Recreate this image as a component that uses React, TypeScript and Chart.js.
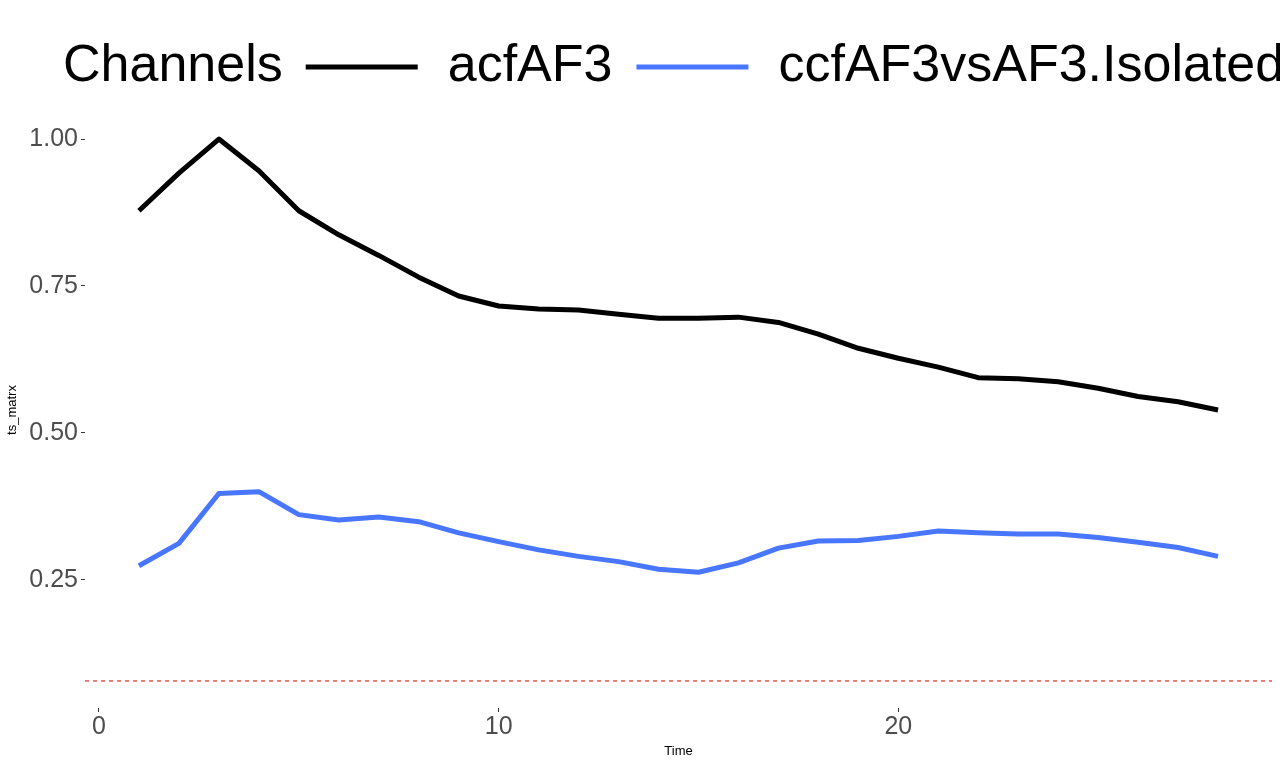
import React, { useEffect, useRef } from "react";
import { Chart, registerables } from "chart.js";

Chart.register(...registerables);

// ---- data ----
const timeSteps = [1, 2, 3, 4, 5, 6, 7, 8, 9, 10, 11, 12, 13, 14, 15, 16, 17, 18, 19, 20, 21, 22, 23, 24, 25, 26, 27, 28];
const acfAF3 = [0.878, 0.942, 1.0, 0.946, 0.878, 0.837, 0.802, 0.765, 0.733, 0.716, 0.711, 0.709, 0.702, 0.695, 0.695, 0.697, 0.688, 0.668, 0.644, 0.627, 0.612, 0.594, 0.592, 0.587, 0.576, 0.562, 0.553, 0.539];
const ccfAF3vsAF3 = [0.274, 0.312, 0.397, 0.4, 0.361, 0.352, 0.357, 0.349, 0.33, 0.315, 0.301, 0.29, 0.281, 0.268, 0.263, 0.279, 0.304, 0.316, 0.317, 0.324, 0.333, 0.33, 0.328, 0.328, 0.322, 0.314, 0.305, 0.29];
const seriesLabels = ["acfAF3", "ccfAF3vsAF3.Isolated"];
const seriesColors = ["#000000", "#4876FF"];
const legendTitle = "Channels";
const thresholdValue = 0.078;
const thresholdColor = "#D80000";
const xTicks = [0, 10, 20];
const yTicks = [0.25, 0.5, 0.75, 1.0];
const xLimits = [-0.35, 29.35];
const yLimits = [0.032, 1.046];
const xTitle = "Time";
const yTitle = "ts_matrx";

const FONT = "'Liberation Sans', Arial, sans-serif";

const legendPlugin = {
  id: "inlineLegend",
  afterDraw(chart: any) {
    const ctx = chart.ctx as CanvasRenderingContext2D;
    ctx.save();
    ctx.font = `52px ${FONT}`;
    ctx.textBaseline = "middle";
    ctx.fillStyle = "#000000";
    const cy = 67;
    let x = 63;
    ctx.fillText(legendTitle, x, cy);
    x += ctx.measureText(legendTitle).width + 23;
    seriesLabels.forEach((lab, i) => {
      ctx.strokeStyle = seriesColors[i];
      ctx.lineWidth = 5;
      ctx.lineCap = "butt";
      ctx.beginPath();
      ctx.moveTo(x, cy);
      ctx.lineTo(x + 112, cy);
      ctx.stroke();
      x += 112 + 30;
      ctx.fillStyle = "#000000";
      ctx.fillText(lab, x, cy);
      x += ctx.measureText(lab).width + 24;
    });
    ctx.restore();
  },
};

export default function App() {
  const ref = useRef<HTMLCanvasElement | null>(null);
  useEffect(() => {
    document.body.style.margin = "0";
    const canvas = ref.current;
    if (!canvas) return;
    const toPoints = (vals: number[]) => vals.map((v, i) => ({ x: timeSteps[i], y: v }));
    const chart = new Chart(canvas, {
      type: "line",
      data: {
        datasets: [
          {
            label: "threshold",
            data: [
              { x: xLimits[0], y: thresholdValue },
              { x: xLimits[1], y: thresholdValue },
            ],
            borderColor: thresholdColor,
            borderWidth: 1,
            borderDash: [4, 4],
            pointRadius: 0,
            fill: false,
          },
          {
            label: seriesLabels[0],
            data: toPoints(acfAF3),
            borderColor: seriesColors[0],
            borderWidth: 5,
            borderJoinStyle: "round",
            borderCapStyle: "butt",
            pointRadius: 0,
            tension: 0,
            fill: false,
          },
          {
            label: seriesLabels[1],
            data: toPoints(ccfAF3vsAF3),
            borderColor: seriesColors[1],
            borderWidth: 5,
            borderJoinStyle: "round",
            borderCapStyle: "butt",
            pointRadius: 0,
            tension: 0,
            fill: false,
          },
        ],
      },
      options: {
        responsive: false,
        animation: false,
        devicePixelRatio: 1,
        layout: { padding: { top: 112, right: 8, left: 0, bottom: 0 } },
        plugins: {
          legend: { display: false },
          tooltip: { enabled: false },
        },
        scales: {
          x: {
            type: "linear",
            min: xLimits[0],
            max: xLimits[1],
            afterBuildTicks: (s: any) => {
              s.ticks = xTicks.map((v) => ({ value: v }));
            },
            afterFit: (s: any) => {
              s.height = 59;
            },
            grid: { drawOnChartArea: false, drawTicks: true, tickLength: 4, color: "#333333", lineWidth: 1 },
            border: { display: false },
            ticks: {
              color: "#4d4d4d",
              font: { family: FONT, size: 25, lineHeight: 1 },
              padding: 3,
              maxRotation: 0,
              autoSkip: false,
              callback: (v: any) => String(v),
            },
            title: {
              display: true,
              text: xTitle,
              color: "#000000",
              font: { family: FONT, size: 13 },
              padding: { top: 0, bottom: 8 },
            },
          },
          y: {
            type: "linear",
            min: yLimits[0],
            max: yLimits[1],
            afterBuildTicks: (s: any) => {
              s.ticks = yTicks.map((v) => ({ value: v }));
            },
            afterFit: (s: any) => {
              s.width = 85;
            },
            grid: { drawOnChartArea: false, drawTicks: true, tickLength: 4, color: "#333333", lineWidth: 1 },
            border: { display: false },
            ticks: {
              color: "#4d4d4d",
              font: { family: FONT, size: 25 },
              padding: 3,
              autoSkip: false,
              callback: (v: any) => Number(v).toFixed(2),
            },
            title: {
              display: true,
              text: yTitle,
              color: "#000000",
              font: { family: FONT, size: 13 },
              padding: { top: 5, bottom: 0 },
            },
          },
        },
      },
      plugins: [legendPlugin],
    } as any);
    return () => chart.destroy();
  }, []);
  return (
    <div style={{ width: 1280, height: 767 }}>
      <canvas ref={ref} width={1280} height={767} style={{ display: "block" }} />
    </div>
  );
}
